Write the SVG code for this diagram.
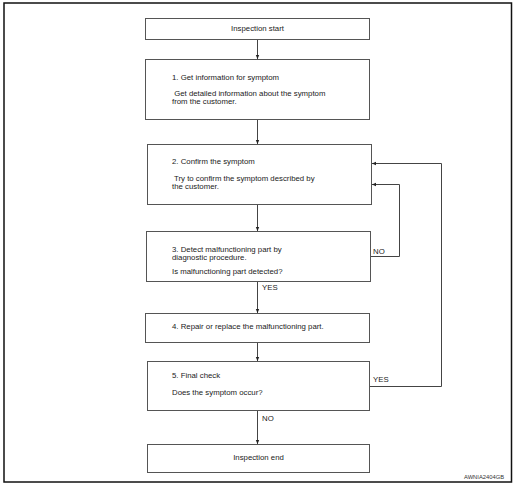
<svg xmlns="http://www.w3.org/2000/svg" width="518" height="490" viewBox="0 0 518 490">
<defs>
<marker id="ah" markerWidth="5" markerHeight="5" refX="4" refY="2.5" orient="auto" markerUnits="userSpaceOnUse">
<path d="M0,0.8 L4,2.5 L0,4.2 Z" fill="#222"/>
</marker>
</defs>
<style>
.box{fill:#fff;stroke:#555;stroke-width:1}
.t{font-family:"Liberation Sans",Arial,sans-serif;font-size:7.8px;fill:#222}
.c{text-anchor:middle}
.ln{fill:none;stroke:#444;stroke-width:1}
.frame{fill:none;stroke:#111;stroke-width:1.5}
.wm{font-family:"Liberation Sans",Arial,sans-serif;font-size:5px;fill:#333}
</style>
<rect width="518" height="490" fill="#fff"/>
<rect class="frame" x="4" y="3" width="507.5" height="479"/>
<g id="connectors">
<line class="ln" x1="257.5" y1="39" x2="257.5" y2="59" marker-end="url(#ah)"/>
<line class="ln" x1="257.5" y1="119" x2="257.5" y2="144" marker-end="url(#ah)"/>
<line class="ln" x1="257.5" y1="204" x2="257.5" y2="231" marker-end="url(#ah)"/>
<line class="ln" x1="257.5" y1="281" x2="257.5" y2="313" marker-end="url(#ah)"/>
<line class="ln" x1="257.5" y1="342" x2="257.5" y2="361" marker-end="url(#ah)"/>
<line class="ln" x1="257.5" y1="410" x2="257.5" y2="444" marker-end="url(#ah)"/>
<polyline class="ln" points="370,256.5 399.5,256.5 399.5,184.5 372,184.5" marker-end="url(#ah)"/>
<polyline class="ln" points="370,386.5 441.5,386.5 441.5,163.5 372,163.5" marker-end="url(#ah)"/>
<text class="t" x="373" y="254">NO</text>
<text class="t" x="262" y="290">YES</text>
<text class="t" x="373" y="382">YES</text>
<text class="t" x="262" y="421">NO</text>
</g>
<g id="start">
<rect class="box" x="145.5" y="18.5" width="224" height="21"/>
<text class="t c" x="257.5" y="31">Inspection start</text>
</g>
<g id="step1">
<rect class="box" x="145.5" y="59.5" width="224" height="60"/>
<text class="t" x="172" y="80">1. Get information for symptom</text>
<text class="t" x="172" y="96" xml:space="preserve"> Get detailed information about the symptom</text>
<text class="t" x="172" y="104">from the customer.</text>
</g>
<g id="step2">
<rect class="box" x="147.5" y="144.5" width="224" height="60"/>
<text class="t" x="172" y="164">2. Confirm the symptom</text>
<text class="t" x="172" y="181" xml:space="preserve"> Try to confirm the symptom described by</text>
<text class="t" x="172" y="189">the customer.</text>
</g>
<g id="step3">
<rect class="box" x="146.5" y="231.5" width="224" height="50"/>
<text class="t" x="172" y="252">3. Detect malfunctioning part by</text>
<text class="t" x="172" y="260">diagnostic procedure.</text>
<text class="t" x="172" y="274">Is malfunctioning part detected?</text>
</g>
<g id="step4">
<rect class="box" x="145.5" y="313.5" width="224" height="29"/>
<text class="t" x="172" y="329">4. Repair or replace the malfunctioning part.</text>
</g>
<g id="step5">
<rect class="box" x="147.5" y="361.5" width="222" height="49"/>
<text class="t" x="172" y="378">5. Final check</text>
<text class="t" x="172" y="395">Does the symptom occur?</text>
</g>
<g id="end">
<rect class="box" x="147.5" y="444.5" width="222" height="28"/>
<text class="t c" x="258.5" y="460">Inspection end</text>
</g>
<text class="wm" x="464" y="479" textLength="40" lengthAdjust="spacingAndGlyphs">AWNIA2404GB</text>
</svg>
